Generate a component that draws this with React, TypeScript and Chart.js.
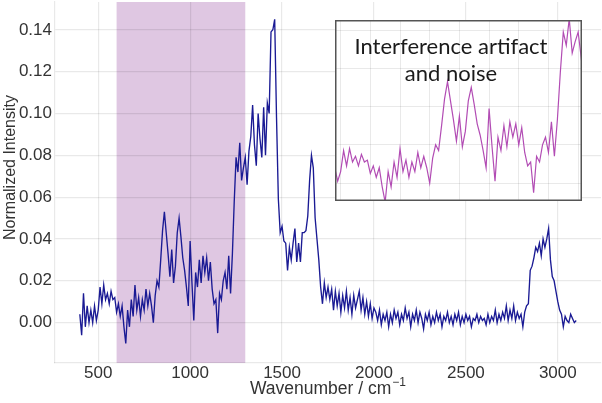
import { useEffect, useRef } from 'react';
import { Chart, registerables } from 'chart.js';

Chart.register(...registerables);

// Wavenumber axis (cm^-1)
const wavenumbers = [
  400, 410, 420, 430, 440, 450, 460, 470, 480, 490,
  500, 510, 520, 530, 540, 550, 560, 570, 580, 590,
  600, 610, 620, 630, 640, 650, 660, 670, 680, 690,
  700, 710, 720, 730, 740, 750, 760, 770, 780, 790,
  800, 810, 820, 830, 840, 850, 860, 870, 880, 890,
  900, 910, 920, 930, 940, 950, 960, 970, 980, 990,
  1000, 1010, 1020, 1030, 1040, 1050, 1060, 1070, 1080, 1090,
  1100, 1110, 1120, 1130, 1140, 1150, 1160, 1170, 1180, 1190,
  1200, 1210, 1220, 1230, 1240, 1250, 1260, 1270, 1280, 1290,
  1300, 1310, 1320, 1330, 1340, 1350, 1360, 1370, 1380, 1390,
  1400, 1410, 1420, 1430, 1440, 1450, 1460, 1470, 1480, 1490,
  1500, 1510, 1520, 1530, 1540, 1550, 1560, 1570, 1580, 1590,
  1600, 1610, 1620, 1630, 1640, 1650, 1660, 1670, 1680, 1690,
  1700, 1710, 1720, 1730, 1740, 1750, 1760, 1770, 1780, 1790,
  1800, 1810, 1820, 1830, 1840, 1850, 1860, 1870, 1880, 1890,
  1900, 1910, 1920, 1930, 1940, 1950, 1960, 1970, 1980, 1990,
  2000, 2010, 2020, 2030, 2040, 2050, 2060, 2070, 2080, 2090,
  2100, 2110, 2120, 2130, 2140, 2150, 2160, 2170, 2180, 2190,
  2200, 2210, 2220, 2230, 2240, 2250, 2260, 2270, 2280, 2290,
  2300, 2310, 2320, 2330, 2340, 2350, 2360, 2370, 2380, 2390,
  2400, 2410, 2420, 2430, 2440, 2450, 2460, 2470, 2480, 2490,
  2500, 2510, 2520, 2530, 2540, 2550, 2560, 2570, 2580, 2590,
  2600, 2610, 2620, 2630, 2640, 2650, 2660, 2670, 2680, 2690,
  2700, 2710, 2720, 2730, 2740, 2750, 2760, 2770, 2780, 2790,
  2800, 2810, 2820, 2830, 2840, 2850, 2860, 2870, 2880, 2890,
  2900, 2910, 2920, 2930, 2940, 2950, 2960, 2970, 2980, 2990,
  3000, 3010, 3020, 3030, 3040, 3050, 3060, 3070, 3080, 3090,
  3100,
];

// Normalized intensity
const intensity = [
  0.004, -0.006, 0.014, -0.002, 0.008, 0.000, 0.006, 0.000, 0.008, 0.001,
  0.006, 0.017, 0.009, 0.018, 0.011, 0.014, 0.009, 0.015, 0.011, 0.012,
  0.005, 0.009, 0.003, 0.008, -0.002, -0.010, 0.006, -0.002, 0.011, 0.003,
  0.018, 0.006, 0.012, 0.003, 0.011, 0.006, 0.016, 0.008, 0.014, 0.008,
  0.000, 0.013, 0.020, 0.017, 0.030, 0.044, 0.053, 0.043, 0.033, 0.022,
  0.035, 0.019, 0.027, 0.043, 0.050, 0.041, 0.031, 0.025, 0.017, 0.008,
  0.039, 0.019, 0.001, 0.024, 0.017, 0.030, 0.019, 0.032, 0.024, 0.031,
  0.020, 0.029, 0.016, 0.009, 0.011, -0.005, 0.014, 0.011, 0.020, 0.024,
  0.016, 0.032, 0.014, 0.033, 0.058, 0.079, 0.072, 0.086, 0.068, 0.074,
  0.079, 0.066, 0.082, 0.089, 0.104, 0.085, 0.075, 0.100, 0.088, 0.079,
  0.103, 0.080, 0.105, 0.100, 0.139, 0.140, 0.145, 0.098, 0.059, 0.043,
  0.046, 0.039, 0.038, 0.025, 0.036, 0.030, 0.038, 0.045, 0.029, 0.038,
  0.029, 0.043, 0.043, 0.044, 0.051, 0.068, 0.080, 0.074, 0.050, 0.040,
  0.030, 0.017, 0.009, 0.019, 0.012, 0.017, 0.011, 0.016, 0.006, 0.015,
  0.008, 0.014, 0.005, 0.013, 0.007, 0.015, 0.006, 0.012, 0.004, 0.013,
  0.007, 0.011, 0.015, 0.006, 0.012, 0.004, 0.010, 0.003, 0.009, 0.002,
  0.007, 0.005, 0.001, 0.006, -0.001, 0.004, 0.001, 0.005, -0.002, 0.004,
  0.000, 0.006, 0.002, 0.005, -0.001, 0.004, 0.001, 0.007, 0.002, 0.005,
  -0.002, 0.004, 0.001, 0.006, 0.000, 0.005, 0.002, -0.003, 0.004, 0.001,
  0.005, -0.001, 0.003, 0.000, 0.005, 0.001, 0.004, -0.002, 0.003, 0.001,
  0.005, 0.000, 0.003, -0.001, 0.004, 0.001, 0.005, -0.001, 0.003, 0.000,
  0.004, 0.001, 0.003, -0.002, 0.002, 0.001, 0.004, 0.000, 0.003, 0.001,
  0.002, -0.001, 0.004, 0.000, 0.003, 0.001, 0.006, 0.000, 0.004, 0.001,
  0.005, 0.002, 0.008, 0.001, 0.006, 0.002, 0.008, 0.001, 0.005, 0.002,
  0.004, -0.002, 0.005, 0.008, 0.009, 0.025, 0.027, 0.031, 0.036, 0.034,
  0.038, 0.032, 0.040, 0.036, 0.040, 0.045, 0.030, 0.022, 0.020, 0.015,
  0.010, 0.006, 0.004, -0.002, 0.003, 0.001, 0.000, 0.004, 0.002, 0.000,
  0.001,
];

const xTickValues = [500, 1000, 1500, 2000, 2500, 3000];
const yTickValues = [0, 0.02, 0.04, 0.06, 0.08, 0.1, 0.12, 0.14];
const xRange = [265, 3235];
const yRange = [-0.0193, 0.1533];
const highlightRange = [600, 1300];

const insetXRange = [481, 1313];
const insetYRange = [-0.0094, 0.0853];
const insetXGrid = [500, 600, 700, 800, 900, 1000, 1100, 1200, 1300];
const insetYGrid = [0, 0.02, 0.04, 0.06, 0.08];
const insetLabel = ['Interference artifact', 'and noise'];

const yTitle = 'Normalized Intensity';
const xTitleMain = 'Wavenumber / cm';
const xTitleSup = '\u22121';

const FONT = '"Liberation Sans", Arial, Helvetica, sans-serif';
const GRID = 'rgba(0,0,0,0.085)';

export default function App() {
  const mainRef = useRef<HTMLCanvasElement | null>(null);
  const insetRef = useRef<HTMLCanvasElement | null>(null);

  useEffect(() => {
    const points = wavenumbers.map((x, i) => ({ x, y: intensity[i] }));

    const decor = {
      id: 'decor',
      beforeDraw(chart: any) {
        const { ctx, chartArea, scales } = chart;
        const x0 = scales.x.getPixelForValue(highlightRange[0]);
        const x1 = scales.x.getPixelForValue(highlightRange[1]);
        ctx.save();
        ctx.fillStyle = '#dfc7e2';
        ctx.fillRect(x0, chartArea.top, x1 - x0, chartArea.bottom - chartArea.top);
        ctx.restore();
      },
      afterDraw(chart: any) {
        const { ctx, chartArea } = chart;
        ctx.save();
        ctx.fillStyle = '#333333';
        ctx.font = `16px ${FONT}`;
        ctx.translate(15, 167.5);
        ctx.rotate(-Math.PI / 2);
        ctx.textAlign = 'center';
        ctx.textBaseline = 'alphabetic';
        ctx.fillText(yTitle, 0, 0);
        ctx.restore();

        ctx.save();
        ctx.fillStyle = '#333333';
        ctx.textBaseline = 'alphabetic';
        ctx.textAlign = 'left';
        ctx.font = `17.5px ${FONT}`;
        const w1 = ctx.measureText(xTitleMain).width;
        ctx.font = `12px ${FONT}`;
        const w2 = ctx.measureText(xTitleSup).width;
        const cx = (chartArea.left + chartArea.right) / 2;
        const start = cx - (w1 + w2 + 1) / 2;
        ctx.font = `17.5px ${FONT}`;
        ctx.fillText(xTitleMain, start, 394);
        ctx.font = `12px ${FONT}`;
        ctx.fillText(xTitleSup, start + w1 + 1, 386);
        ctx.restore();
      },
    };

    const main = new Chart(mainRef.current as HTMLCanvasElement, {
      type: 'line',
      data: {
        datasets: [
          {
            data: points,
            borderColor: '#1a1a94',
            borderWidth: 1.35,
            pointRadius: 0,
            tension: 0,
            fill: false,
          },
        ],
      },
      options: {
        animation: false,
        responsive: false,
        devicePixelRatio: 1,
        layout: { padding: { top: 2, right: 1, left: 0, bottom: 0 } },
        plugins: { legend: { display: false }, tooltip: { enabled: false } },
        scales: {
          x: {
            type: 'linear',
            min: xRange[0],
            max: xRange[1],
            afterBuildTicks: (s: any) => {
              s.ticks = xTickValues.map((v) => ({ value: v }));
            },
            afterFit: (s: any) => {
              s.height = 40;
              s.paddingLeft = 0;
              s.paddingRight = 0;
              s.paddingTop = 0;
              s.paddingBottom = 0;
            },
            grid: { color: GRID, lineWidth: 1.2, drawTicks: false },
            border: { display: true, color: GRID, width: 1.2 },
            ticks: {
              padding: 0,
              color: '#333333',
              font: { family: FONT, size: 17 },
              maxRotation: 0,
              autoSkip: false,
              callback: (v: any) => String(v),
            },
          },
          y: {
            type: 'linear',
            min: yRange[0],
            max: yRange[1],
            afterBuildTicks: (s: any) => {
              s.ticks = yTickValues.map((v) => ({ value: v }));
            },
            afterFit: (s: any) => {
              s.width = 55;
              s.paddingLeft = 0;
              s.paddingRight = 0;
              s.paddingTop = 0;
              s.paddingBottom = 0;
            },
            grid: { color: GRID, lineWidth: 1.2, drawTicks: false },
            border: { display: true, color: GRID, width: 1.2 },
            ticks: {
              padding: 3,
              color: '#333333',
              font: { family: FONT, size: 17 },
              autoSkip: false,
              callback: (v: any) => Number(v).toFixed(2),
            },
          },
        },
      },
      plugins: [decor],
    } as any);

    const insetDecor = {
      id: 'insetDecor',
      afterDraw(chart: any) {
        const { ctx, width, height } = chart;
        ctx.save();
        ctx.strokeStyle = '#555555';
        ctx.lineWidth = 1.5;
        ctx.strokeRect(0.75, 0.75, width - 1.5, height - 1.5);
        ctx.fillStyle = '#1a1a1a';
        ctx.font = '22px Lato, "Open Sans", sans-serif';
        ctx.textAlign = 'center';
        ctx.textBaseline = 'alphabetic';
        ctx.fillText(insetLabel[0], 116, 33.5);
        ctx.fillText(insetLabel[1], 116, 61);
        ctx.restore();
      },
    };

    const inset = new Chart(insetRef.current as HTMLCanvasElement, {
      type: 'line',
      data: {
        datasets: [
          {
            data: points,
            borderColor: '#b24cb4',
            borderWidth: 1.2,
            pointRadius: 0,
            tension: 0,
            fill: false,
          },
        ],
      },
      options: {
        animation: false,
        responsive: false,
        devicePixelRatio: 1,
        layout: { padding: 0 },
        plugins: { legend: { display: false }, tooltip: { enabled: false } },
        scales: {
          x: {
            type: 'linear',
            min: insetXRange[0],
            max: insetXRange[1],
            afterBuildTicks: (s: any) => {
              s.ticks = insetXGrid.map((v) => ({ value: v }));
            },
            afterFit: (s: any) => {
              s.height = 0;
              s.paddingLeft = 0;
              s.paddingRight = 0;
            },
            grid: { color: GRID, lineWidth: 1, drawTicks: false },
            border: { display: false },
            ticks: { display: false },
          },
          y: {
            type: 'linear',
            min: insetYRange[0],
            max: insetYRange[1],
            afterBuildTicks: (s: any) => {
              s.ticks = insetYGrid.map((v) => ({ value: v }));
            },
            afterFit: (s: any) => {
              s.width = 0;
              s.paddingTop = 0;
              s.paddingBottom = 0;
            },
            grid: { color: GRID, lineWidth: 1, drawTicks: false },
            border: { display: false },
            ticks: { display: false },
          },
        },
      },
      plugins: [insetDecor],
    } as any);

    return () => {
      main.destroy();
      inset.destroy();
    };
  }, []);

  return (
    <div style={{ position: 'absolute', left: 0, top: 0, width: 602, height: 403, background: '#ffffff' }}>
      <canvas ref={mainRef} width={602} height={403} style={{ position: 'absolute', left: 0, top: 0, width: 602, height: 403 }} />
      <div style={{ position: 'absolute', left: 335, top: 20, width: 247, height: 181, background: '#ffffff' }}>
        <canvas ref={insetRef} width={247} height={181} style={{ display: 'block', width: 247, height: 181 }} />
      </div>
    </div>
  );
}
